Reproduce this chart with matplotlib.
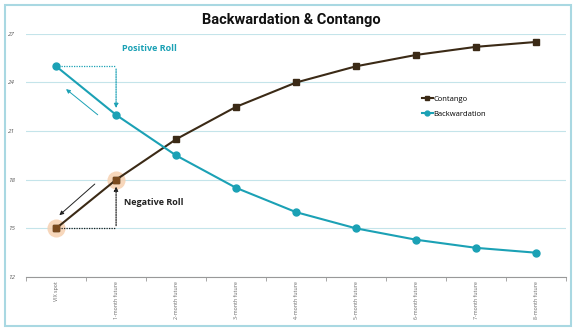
import matplotlib

matplotlib.use("Agg")
import matplotlib.pyplot as plt  # noqa: E402
from matplotlib.patches import Rectangle  # noqa: E402

CATEGORIES = ["VIX spot", "1-month future", "2-month future", "3-month future",
              "4-month future", "5-month future", "6-month future",
              "7-month future", "8-month future"]
CONTANGO = [15, 18, 20.5, 22.5, 24, 25, 25.7, 26.2, 26.5]
BACKWARDATION = [25, 22, 19.5, 17.5, 16, 15, 14.3, 13.8, 13.5]
Y_TICKS = [12, 15, 18, 21, 24, 27]

C_CONT = "#3b2a16"
C_BACK = "#1ba1b5"
C_GRID = "#c4e4ea"
C_HALO = "#f6d0b0"

plt.rcParams["font.family"] = ["Open Sans", "DejaVu Sans"]

fig = plt.figure(figsize=(5.79, 3.35), dpi=100)
ax = fig.add_axes([0.045, 0.173, 0.933, 0.726])

x = list(range(len(CATEGORIES)))

# highlighted contango points
ax.scatter(x[:2], CONTANGO[:2], s=170, color=C_HALO, alpha=0.85, zorder=2, linewidths=0)

ax.plot(x, CONTANGO, color=C_CONT, lw=1.5, marker="s", ms=5, zorder=3, label="Contango")
ax.plot(x[:2], CONTANGO[:2], ls="none", marker="s", ms=5, color="#7a4a1e", zorder=4)
ax.plot(x, BACKWARDATION, color=C_BACK, lw=1.5, marker="o", ms=5, zorder=3, label="Backwardation")

# positive roll annotation
ax.plot([x[0], x[1]], [BACKWARDATION[0], BACKWARDATION[0]], ls=(0, (1, 1)), color=C_BACK, lw=0.9)
ax.annotate("", xy=(x[1], BACKWARDATION[1] + 0.25), xytext=(x[1], BACKWARDATION[0]),
            arrowprops=dict(arrowstyle="-|>", ls=(0, (1, 1)), color=C_BACK, lw=0.9,
                            mutation_scale=6))
ax.annotate("", xy=(0.13, 23.7), xytext=(0.73, 21.9),
            arrowprops=dict(arrowstyle="-|>", color=C_BACK, lw=0.7, mutation_scale=6))
ax.text(1.55, 26.1, "Positive Roll", color=C_BACK, fontsize=6.5, fontweight="bold",
        ha="center", va="center")

# negative roll annotation
ax.plot([x[0], x[1]], [CONTANGO[0], CONTANGO[0]], ls=(0, (1, 1)), color="#222222", lw=0.9)
ax.annotate("", xy=(x[1], CONTANGO[1] - 0.25), xytext=(x[1], CONTANGO[0]),
            arrowprops=dict(arrowstyle="-|>", ls=(0, (1, 1)), color="#222222", lw=0.9,
                            mutation_scale=6))
ax.annotate("", xy=(0.02, 15.7), xytext=(0.68, 17.85),
            arrowprops=dict(arrowstyle="-|>", color="#222222", lw=0.7, mutation_scale=6))
ax.text(1.13, 16.6, "Negative Roll", color="#222222", fontsize=6.5, fontweight="bold",
        ha="left", va="center")

ax.set_xlim(-0.5, len(CATEGORIES) - 0.5)
ax.set_ylim(12, 27)
ax.set_yticks(Y_TICKS)
ax.set_yticklabels([str(v) for v in Y_TICKS], fontsize=4.5, color="#555555", style="italic")
ax.set_xticks(x)
ax.set_xticklabels(CATEGORIES, rotation=90, fontsize=3.8, color="#666666")
ax.set_xticks([i - 0.5 for i in range(len(CATEGORIES) + 1)], minor=True)
ax.tick_params(axis="x", which="major", length=0, pad=3)
ax.tick_params(axis="x", which="minor", length=3, color="#999999")
ax.tick_params(axis="y", length=0, pad=8)
ax.grid(axis="y", color=C_GRID, lw=0.8)
ax.set_axisbelow(True)
for s in ("top", "right", "left"):
    ax.spines[s].set_visible(False)
ax.spines["bottom"].set_color("#999999")
ax.spines["bottom"].set_linewidth(0.8)

ax.legend(loc="upper left", bbox_to_anchor=(0.72, 0.775), frameon=False, fontsize=5.5,
          handlelength=1.4, handletextpad=0.1, labelspacing=1.0, markerscale=0.7)

fig.text(0.503, 0.94, "Backwardation & Contango", ha="center", va="center",
         fontsize=10.5, fontweight="bold", color="#111111", family=["Roboto", "DejaVu Sans"])

fig.patches.append(Rectangle((0.009, 0.027), 0.977, 0.958, transform=fig.transFigure,
                             fill=False, edgecolor="#a9d8e2", lw=1.5))

fig.savefig("out.png", dpi=100)
